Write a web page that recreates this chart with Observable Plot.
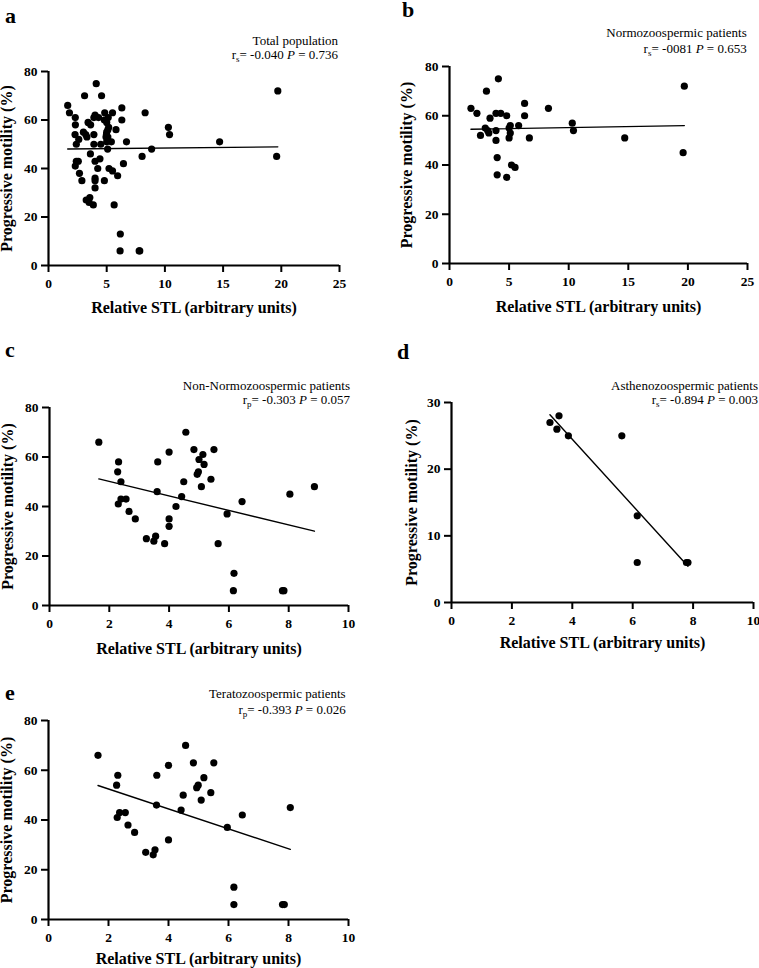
<!DOCTYPE html>
<html>
<head>
<meta charset="utf-8">
<script src="https://cdn.jsdelivr.net/npm/d3@7"></script>
<script src="https://cdn.jsdelivr.net/npm/@observablehq/plot@0.6"></script>
<style>
  body { margin: 0; background: #fff; }
  #fig { position: relative; width: 759px; height: 968px; overflow: hidden; background: #fff; }
  .panel { position: absolute; }
  .panel svg, .panel svg text { font-family: "Liberation Serif", "Times New Roman", Times, serif; }
  .panel g[aria-label$="tick label"] text { font-weight: bold; font-size: 13.5px; }
  #overlay { position: absolute; left: 0; top: 0; pointer-events: none; }
  #overlay text { white-space: pre; }
</style>
</head>
<body>
<div id="fig"></div>
<script>
// ---------------- data ----------------
// b: normozoospermic patients
const normoSTL = [1.8, 2.3, 3.1, 4.1, 3.4, 3.9, 4.3, 4.8, 3.0, 3.2, 3.3, 2.6, 3.9, 3.9, 5.0, 5.0, 5.1, 5.1, 5.8, 6.3, 6.3, 6.7, 8.3, 10.3, 10.4, 14.7, 19.7, 19.6, 4.0, 4.0, 5.2, 5.5, 4.8];
const normoMotility = [63, 61, 70, 75, 59, 61, 61, 60, 55, 54, 53, 52, 54, 50, 51, 55, 56, 53, 56, 60, 65, 51, 63, 57, 54, 51, 72, 45, 43, 36, 40, 39, 35];

// c: non-normozoospermic patients
const nonNormoSTL = [1.65, 2.31, 2.28, 2.39, 2.3, 2.39, 2.56, 2.66, 2.87, 3.24, 3.49, 3.55, 3.85, 3.62, 3.6, 4.0, 4.0, 4.0, 4.23, 4.42, 4.49, 4.56, 4.83, 5.0, 5.13, 5.17, 4.98, 4.94, 5.08, 5.4, 5.5, 5.64, 5.94, 6.44, 6.17, 6.15, 7.79, 7.84, 8.04, 8.86];
const nonNormoMotility = [66, 58, 54, 50, 41, 43, 43, 38, 35, 27, 26, 28, 25, 58, 46, 62, 35, 32, 40, 44, 50, 70, 63, 59, 61, 57, 54, 53, 48, 51, 63, 25, 37, 42, 13, 6, 6, 6, 45, 48];

// d: asthenozoospermic patients
const asthenoSTL = [3.26, 3.56, 3.49, 3.87, 5.64, 6.15, 6.15, 7.78, 7.83];
const asthenoMotility = [27, 28, 26, 25, 25, 13, 6, 6, 6];

// e: teratozoospermic patients
const teratoSTL = [1.65, 2.31, 2.27, 2.29, 2.37, 2.56, 2.65, 2.87, 3.24, 3.49, 3.55, 3.61, 3.6, 4.0, 4.0, 4.42, 4.49, 4.57, 4.83, 5.18, 4.99, 4.94, 5.09, 5.41, 5.51, 5.96, 6.46, 6.18, 6.18, 7.8, 7.86, 8.06];
const teratoMotility = [66, 58, 54, 41, 43, 43, 38, 35, 27, 26, 28, 58, 46, 62, 32, 44, 50, 70, 63, 57, 54, 53, 48, 51, 63, 37, 42, 13, 6, 6, 6, 45];

// a: total population = normozoospermic + non-normozoospermic
const totalSTL = normoSTL.concat(nonNormoSTL);
const totalMotility = normoMotility.concat(nonNormoMotility);

// tick values
const xTicksWide = [0, 5, 10, 15, 20, 25];
const xTicksNarrow = [0, 2, 4, 6, 8, 10];
const yTicksMotility = [0, 20, 40, 60, 80];
const yTicksAstheno = [0, 10, 20, 30];

// annotation texts
const panelLetters = ["a", "b", "c", "d", "e"];
const panelTitles = ["Total population", "Normozoospermic patients", "Non-Normozoospermic patients", "Asthenozoospermic patients", "Teratozoospermic patients"];
const coefTypes = ["s", "s", "p", "s", "p"];
const rValues = ["-0.040", "-0081", "-0.303", "-0.894", "-0.393"];
const pValues = ["0.736", "0.653", "0.057", "0.003", "0.026"];

const xTitle = "Relative STL (arbitrary units)";
const yTitle = "Progressive motility (%)";

// ---------------- layout ----------------
const FONT = '"Liberation Serif", "Times New Roman", Times, serif';
const panels = [
  {stl: totalSTL, mot: totalMotility, xDomain: [0, 25], yDomain: [0, 80], xTicks: xTicksWide, yTicks: yTicksMotility,
   left: 0, top: 0, width: 380, height: 330, mL: 48, mR: 41, mT: 71, mB: 65, yTitleDx: -37, xTitleDy: 47.5,
   letter: [5, 23], note: [338, 45, 59.3]},
  {stl: normoSTL, mot: normoMotility, xDomain: [0, 25], yDomain: [0, 80], xTicks: xTicksWide, yTicks: yTicksMotility,
   left: 380, top: 0, width: 379, height: 330, mL: 69, mR: 12, mT: 66, mB: 67, yTitleDx: -37.5, xTitleDy: 48.7,
   letter: [402, 17], note: [746.7, 37, 53]},
  {stl: nonNormoSTL, mot: nonNormoMotility, xDomain: [0, 10], yDomain: [0, 80], xTicks: xTicksNarrow, yTicks: yTicksMotility,
   left: 0, top: 320, width: 380, height: 340, mL: 49, mR: 32, mT: 87, mB: 55, yTitleDx: -37, xTitleDy: 48.3,
   letter: [5, 357], note: [350, 389.7, 403.7]},
  {stl: asthenoSTL, mot: asthenoMotility, xDomain: [0, 10], yDomain: [0, 30], xTicks: xTicksNarrow, yTicks: yTicksAstheno,
   left: 380, top: 320, width: 379, height: 340, mL: 71, mR: 6, mT: 82, mB: 58, yTitleDx: -34.5, xTitleDy: 45.7,
   letter: [397, 359], note: [758, 389.7, 403.7]},
  {stl: teratoSTL, mot: teratoMotility, xDomain: [0, 10], yDomain: [0, 80], xTicks: xTicksNarrow, yTicks: yTicksMotility,
   left: 0, top: 660, width: 380, height: 308, mL: 48, mR: 32, mT: 60, mB: 49, yTitleDx: -37, xTitleDy: 44.3,
   letter: [5, 700], note: [345.7, 697.7, 713.7]}
];

const fig = document.getElementById("fig");
const textStyle = {fontFamily: FONT, fontWeight: "bold", fill: "black"};

panels.forEach((p) => {
  const data = p.stl.map((x, i) => ({stl: x, motility: p.mot[i]}));
  const chart = Plot.plot({
    width: p.width,
    height: p.height,
    marginLeft: p.mL,
    marginRight: p.mR,
    marginTop: p.mT,
    marginBottom: p.mB,
    style: {fontFamily: FONT, background: "transparent", color: "black", overflow: "visible"},
    x: {domain: p.xDomain, nice: false},
    y: {domain: p.yDomain, nice: false},
    marks: [
      Plot.axisX({ticks: p.xTicks, tickSize: 7, tickPadding: 6, strokeWidth: 2, fontSize: 13.5, ...textStyle,
                  label: null, tickFormat: (d) => String(d)}),
      Plot.axisY({ticks: p.yTicks, tickSize: 7, tickPadding: 4, strokeWidth: 2, fontSize: 13.5, ...textStyle,
                  label: null, tickFormat: (d) => String(d)}),
      Plot.ruleX([p.xDomain[0]], {stroke: "black", strokeWidth: 2.2}),
      Plot.ruleY([p.yDomain[0]], {stroke: "black", strokeWidth: 2.2}),
      Plot.linearRegressionY(data, {x: "stl", y: "motility", ci: 0, stroke: "black", strokeWidth: 1.4}),
      Plot.dot(data, {x: "stl", y: "motility", r: 3.6, fill: "black"}),
      Plot.text([xTitle], {text: (d) => d, frameAnchor: "bottom", textAnchor: "middle", dy: p.xTitleDy,
                           lineAnchor: "bottom", fontSize: 16, ...textStyle}),
      Plot.text([yTitle], {text: (d) => d, frameAnchor: "left", textAnchor: "middle", dx: p.yTitleDx, rotate: -90,
                           lineAnchor: "bottom", fontSize: 16, ...textStyle})
    ]
  });
  const holder = document.createElement("div");
  holder.className = "panel";
  holder.style.left = p.left + "px";
  holder.style.top = p.top + "px";
  holder.appendChild(chart);
  fig.appendChild(holder);
});

// overlay with panel letters and statistics annotations
const overlay = d3.create("svg")
  .attr("id", "overlay")
  .attr("width", 759)
  .attr("height", 968)
  .style("font-family", FONT);

panels.forEach((p, i) => {
  overlay.append("text")
    .attr("x", p.letter[0]).attr("y", p.letter[1])
    .attr("font-size", 22).attr("font-weight", "bold")
    .text(panelLetters[i]);

  overlay.append("text")
    .attr("x", p.note[0]).attr("y", p.note[1])
    .attr("text-anchor", "end").attr("font-size", 13)
    .text(panelTitles[i]);

  const t = overlay.append("text")
    .attr("x", p.note[0]).attr("y", p.note[2])
    .attr("text-anchor", "end").attr("font-size", 13);
  t.append("tspan").text("r");
  t.append("tspan").attr("font-size", 9).attr("dy", 3).text(coefTypes[i]);
  t.append("tspan").attr("dy", -3).text("= " + rValues[i] + " ");
  t.append("tspan").attr("font-style", "italic").text("P");
  t.append("tspan").text(" = " + pValues[i]);
});

fig.appendChild(overlay.node());
</script>
</body>
</html>
